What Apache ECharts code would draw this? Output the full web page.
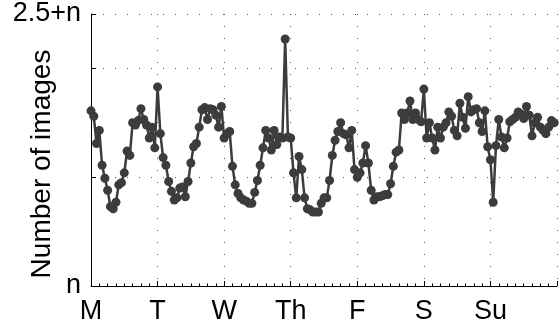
<!DOCTYPE html>
<html>
<head>
<meta charset="utf-8">
<script src="https://cdn.jsdelivr.net/npm/echarts@6/dist/echarts.min.js"></script>
<style>
html,body{margin:0;padding:0;background:#fff;}
#chart{width:560px;height:325px;}
</style>
</head>
<body>
<div id="chart"></div>
<script>
// Day labels (one per 24 hours)
var dayLabels = ['M', 'T', 'W', 'Th', 'F', 'S', 'Su'];
// Y tick labels
var yTickLabels = { 0: 'n', 2.5: '2.5+n' };
// Hourly values, Monday 00:00 .. Sunday 23:00 (offset from n)
var monday    = [1.61,1.56,1.31,1.43,1.11,0.99,0.88,0.73,0.71,0.77,0.93,0.95,1.04,1.24,1.20,1.50,1.48,1.52,1.63,1.53,1.48,1.36,1.46,1.27];
var tuesday   = [1.83,1.40,1.18,1.11,0.96,0.87,0.79,0.81,0.90,0.91,0.82,0.96,1.13,1.28,1.31,1.46,1.62,1.64,1.53,1.63,1.62,1.57,1.46,1.65];
var wednesday = [1.36,1.40,1.42,1.10,0.93,0.85,0.81,0.79,0.78,0.76,0.76,0.86,0.97,1.11,1.27,1.43,1.36,1.25,1.43,1.30,1.37,1.36,2.27,1.37];
var thursday  = [1.36,1.04,0.81,1.19,1.07,0.81,0.71,0.70,0.68,0.68,0.68,0.76,0.81,0.81,0.97,1.20,1.34,1.42,1.50,1.40,1.39,1.27,1.43,1.07];
var friday    = [1.00,1.04,1.13,1.29,1.13,0.88,0.79,0.82,0.82,0.83,0.84,0.84,0.94,1.10,1.23,1.25,1.59,1.53,1.59,1.70,1.53,1.59,1.53,1.51];
var saturday  = [1.81,1.36,1.50,1.36,1.25,1.46,1.36,1.46,1.50,1.60,1.56,1.43,1.38,1.68,1.55,1.45,1.74,1.60,1.62,1.63,1.50,1.42,1.61,1.28];
var sunday    = [1.16,0.77,1.29,1.53,1.37,1.27,1.36,1.51,1.53,1.55,1.60,1.58,1.54,1.65,1.57,1.38,1.50,1.55,1.46,1.43,1.40,1.46,1.52,1.50];

var values = [].concat(monday, tuesday, wednesday, thursday, friday, saturday, sunday);
var seriesData = values.map(function (v, i) { return [i, v]; });

var FONT = 'Liberation Sans, Arial, Helvetica, sans-serif';
var dotted = { color: '#555', width: 1, type: [1, 11] };

var chart = echarts.init(document.getElementById('chart'), null, { renderer: 'canvas' });
chart.setOption({
  animation: false,
  backgroundColor: '#fff',
  grid: { left: 91, top: 14, bottom: 39, width: 472.5, containLabel: false },
  xAxis: {
    type: 'value', min: 0, max: 168, interval: 24,
    axisLine: { show: true, lineStyle: { color: '#000', width: 1 } },
    axisTick: { show: true, inside: true, length: 5, lineStyle: { color: '#000' } },
    minorTick: { show: true, splitNumber: 8, length: 2.5, lineStyle: { color: '#000' } },
    axisLabel: {
      color: '#000', fontSize: 27, fontFamily: FONT, margin: 12,
      formatter: function (v) { return dayLabels[Math.round(v / 24)] || ''; }
    },
    splitLine: { show: true, lineStyle: dotted }
  },
  yAxis: {
    type: 'value', min: 0, max: 2.5, interval: 1,
    axisLine: { show: true, lineStyle: { color: '#000', width: 1 } },
    axisTick: { show: true, inside: true, length: 5, lineStyle: { color: '#000' } },
    axisLabel: {
      color: '#000', fontSize: 27, fontFamily: FONT, margin: 10, padding: [5, 0, 0, 0],
      showMaxLabel: true, showMinLabel: true,
      formatter: function (v) { return yTickLabels[v] || ''; }
    },
    splitLine: { show: true, lineStyle: dotted }
  },
  graphic: [{
    type: 'text', x: 42, y: 164, rotation: Math.PI / 2,
    style: { text: 'Number of images', fontSize: 28, fontFamily: FONT, fill: '#000', align: 'center', verticalAlign: 'middle' }
  }],
  series: [{
    type: 'line',
    data: seriesData,
    symbol: 'circle', symbolSize: 9, showAllSymbol: true,
    lineStyle: { color: '#3c3c3c', width: 2.5 },
    itemStyle: { color: '#3c3c3c' },
    clip: false
  }]
});
</script>
</body>
</html>
